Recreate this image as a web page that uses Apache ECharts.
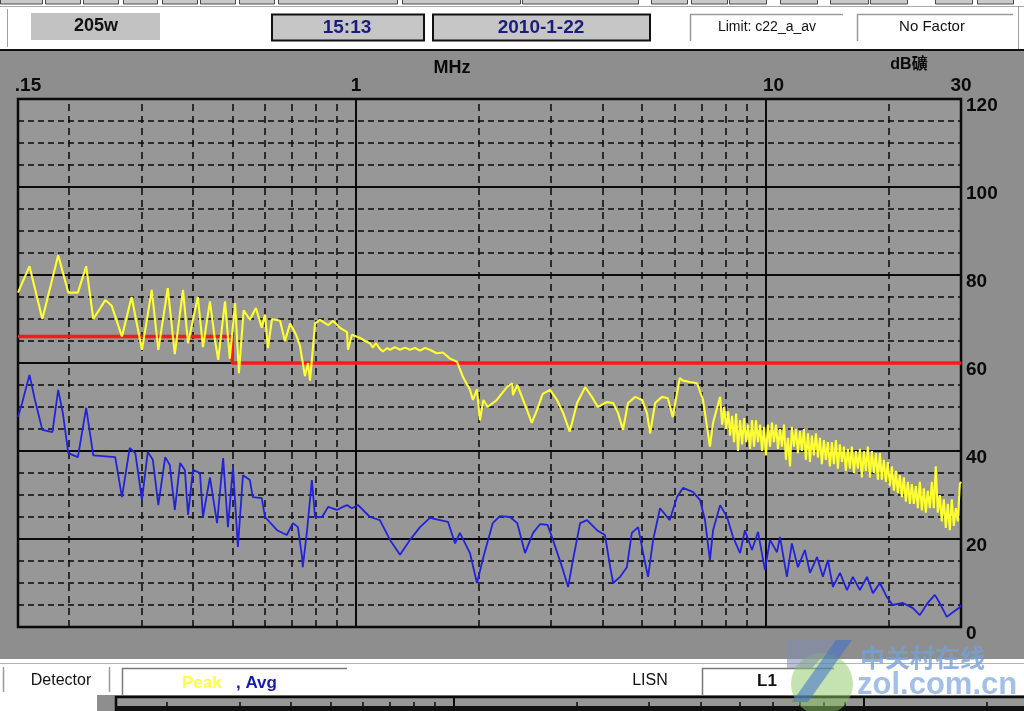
<!DOCTYPE html>
<html><head><meta charset="utf-8">
<script src="https://cdn.jsdelivr.net/npm/echarts@6/dist/echarts.min.js"></script>
<style>html,body{margin:0;padding:0;background:#8e8e8e;}#c{width:1024px;height:711px;}</style>
</head><body><div id="c"></div><script>
// ---- data ----
const xTicks = [0.15, 1, 10, 30];
const xTickText = ['.15', '1', '10', '30'];
const minorFreqs = [0.2,0.3,0.4,0.5,0.6,0.7,0.8,0.9,2,3,4,5,6,7,8,9,20];
const yMin = 0, yMax = 120, yStep = 20;
const limitTrace = [[0.15,66],[0.5,66],[0.5,60],[30,60]];
const peakTrace = [
[0.150,76],[0.160,82],[0.172,70],[0.188,84.5],[0.199,76],[0.210,76],[0.220,82],[0.229,70],[0.245,74.3],[0.254,73],
[0.269,66],[0.284,75],[0.301,63],[0.318,76.6],[0.330,63],[0.348,77],[0.362,62],[0.379,76.6],[0.390,64.5],[0.412,75],
[0.424,63.6],[0.441,74],[0.454,65],[0.462,60.7],[0.480,74],[0.493,61],[0.508,73.6],[0.519,57.7],[0.533,72],[0.552,69.8],
[0.571,72.5],[0.590,68],[0.601,71],[0.611,63.4],[0.625,70],[0.654,69.6],[0.672,65],[0.692,69],[0.715,66.5],[0.731,64],
[0.752,57],[0.765,60],[0.774,56],[0.796,69],[0.818,69.8],[0.857,68.6],[0.880,69.6],[0.916,68],[0.953,67],[0.958,63],
[0.979,66.4],[1.025,65.7],[1.054,65],[1.084,64.5],[1.102,63.5],[1.121,64.5],[1.146,63.2],[1.166,62.6],[1.193,63.4],[1.213,63],
[1.247,63.6],[1.283,63],[1.319,63.5],[1.357,63],[1.396,63.4],[1.436,62.8],[1.476,63.4],[1.518,63],[1.578,62.2],[1.633,62.4],
[1.699,61],[1.767,60.3],[1.828,56.8],[1.901,53.9],[1.933,51.6],[1.977,54],[2.01,47],[2.05,51.6],[2.10,50],[2.21,51.6],
[2.34,54.5],[2.41,55.4],[2.42,52.7],[2.48,55],[2.62,49.3],[2.69,46.4],[2.77,49.3],[2.86,53],[2.98,53.9],[3.10,51.6],
[3.21,48.6],[3.33,44.4],[3.47,50.9],[3.63,54.5],[3.77,52.3],[3.90,50],[4.10,51.1],[4.25,50.9],[4.37,48.6],[4.49,44.8],
[4.62,50.9],[4.81,52.3],[5.00,51.6],[5.14,48.6],[5.23,44],[5.38,50.9],[5.59,52.3],[5.78,52],[5.94,47.7],[6.08,53],
[6.18,56.6],[6.29,56],[6.54,55.7],[6.81,55.4],[7.04,51.6],[7.12,48.6],[7.32,41],[7.45,46.4],
[7.75,52.3],[7.84,46],[7.93,50],[8.02,45],[8.11,49],[8.20,43.5],[8.29,48],[8.38,42],[8.48,48.5],[8.57,40],
[8.67,47],[8.77,41.5],[8.87,47.5],[8.97,42],[9.07,46],[9.17,40.5],[9.27,47],[9.38,41],[9.48,47],[9.59,42],
[9.70,46],[9.81,40],[9.92,45.5],[10.03,39],[10.14,46],[10.26,41],[10.37,46.5],[10.49,42],[10.61,46],[10.73,40.5],
[10.85,45],[10.97,41],[11.10,46],[11.22,38],[11.35,43],[11.48,36.5],[11.60,45.5],[11.74,41],[11.87,45],[12.00,39.5],
[12.14,44.5],[12.27,40],[12.41,45],[12.55,38],[12.70,44],[12.84,37.5],[12.98,43.5],[13.13,39],[13.28,44],[13.43,38.5],
[13.58,43],[13.73,37],[13.89,42.5],[14.04,38],[14.20,42],[14.36,36.5],[14.53,42],[14.69,37],[14.86,42.5],[15.02,36],
[15.19,41.5],[15.37,37.5],[15.54,41],[15.71,35.5],[15.89,40.5],[16.07,36],[16.25,41],[16.44,35],[16.62,40],[16.81,36],
[17.00,40.5],[17.19,34],[17.39,40],[17.58,35.5],[17.78,41],[17.98,34],[18.18,40],[18.39,35],[18.60,39.5],[18.81,33.5],
[19.02,39.5],[19.23,33.5],[19.45,38],[19.67,33],[19.89,37.5],[20.12,32],[20.35,36.5],[20.58,31],[20.81,35.5],[21.04,30.5],
[21.28,34.5],[21.52,29.5],[21.76,34],[22.01,28.5],[22.26,33],[22.51,28],[22.76,32.5],[23.02,28],[23.28,32],[23.54,27],
[23.81,33],[24.08,26.5],[24.35,31.5],[24.62,26],[24.90,31],[25.18,27],[25.47,33],[25.75,27],[26.04,36.5],[26.33,26],
[26.63,30],[26.93,24],[27.24,29],[27.55,22.5],[27.86,28],[28.17,22],[28.49,29],[28.81,23],[29.14,27],[29.47,24],
[29.80,32.5],[30,33]
];
const avgTrace = [
[0.150,47.7],[0.1535,50.9],[0.160,57.3],[0.165,51.6],[0.172,44.8],[0.182,44.3],[0.188,53.9],[0.193,48.6],[0.199,39.5],[0.210,38.6],
[0.220,49.8],[0.229,39],[0.259,38.6],[0.269,29.5],[0.281,40.7],[0.290,39.5],[0.301,28.9],[0.311,39.8],[0.320,38],[0.330,27.7],
[0.343,38.6],[0.352,36.8],[0.362,26.6],[0.373,37.3],[0.383,35.7],[0.390,25.5],[0.401,35.7],[0.417,35],[0.424,25],[0.441,34],
[0.459,23.6],[0.475,38.4],[0.488,22.7],[0.502,36.4],[0.516,18.2],[0.531,34.5],[0.552,33.4],[0.561,29.5],[0.590,29.3],[0.601,25],
[0.643,22],[0.679,20.9],[0.703,23.6],[0.723,22.7],[0.740,15.9],[0.743,13.6],[0.760,21.4],[0.782,33.4],[0.796,25],[0.828,25],
[0.857,27.3],[0.900,26.6],[0.931,27.3],[0.953,27.7],[0.979,27],[1.014,27.7],[1.084,25],[1.146,24.3],[1.213,19.8],[1.283,16.4],
[1.357,19.8],[1.436,22.7],[1.518,24.8],[1.606,24.3],[1.680,23.9],[1.748,19],[1.796,21.4],[1.901,16.8],[1.977,10],[2.05,15.9],
[2.16,23.6],[2.25,25.2],[2.38,25],[2.48,23.6],[2.59,16.8],[2.71,21.4],[2.82,23.4],[2.94,23.2],[3.03,19.8],[3.19,13.6],
[3.30,9.1],[3.39,15.2],[3.53,23.6],[3.67,24.3],[3.88,22],[4.06,20.9],[4.18,13.6],[4.25,10],[4.42,11.4],[4.59,13.6],
[4.72,21.4],[4.89,22.7],[5.03,16.8],[5.17,11.4],[5.32,19.8],[5.53,27],[5.84,24.3],[6.08,29.5],[6.29,31.6],[6.65,30.7],
[6.92,28.9],[7.12,24.3],[7.32,15.2],[7.45,22],[7.75,27.7],[8.06,25],[8.33,20.5],[8.67,16.8],[8.91,22],[9.27,17.5],
[9.59,21.6],[9.97,13],[10.26,19.8],[10.67,17],[10.85,20.5],[11.28,11.4],[11.60,19],[12.00,13.6],[12.48,17.5],[12.84,12.3],
[13.36,15.9],[13.81,11.4],[14.20,15.2],[14.61,9.1],[15.20,12.3],[15.81,8.4],[16.34,11.4],[17.0,8.4],[17.69,11.4],[18.29,7.7],
[19.03,10],[19.78,6.8],[20.46,5],[21.6,5.5],[22.9,4.3],[23.8,2.7],[24.9,5.5],[25.9,7.3],[26.6,5.5],[27.7,2.3],
[28.5,3.2],[29.8,4.5],[30,5]
];

// ---- styles ----
const FONT = '"Liberation Sans", Arial, "Noto Sans CJK SC", sans-serif';
const BLACK = '#0a0a0a';
const PLOT_BG = '#979797';

function minorLines(z) {
  return {
    silent: true, symbol: ['none','none'], z: z, animation: false,
    label: {show: false}, emphasis: {disabled: true},
    lineStyle: {color: BLACK, type: [7,5], width: 1.5},
    data: minorFreqs.map(f => ({xAxis: f}))
  };
}
function txt(x, y, text, font, fill, align, z) {
  return {type:'text', x:x, y:y, z: z || 20, silent:true,
    style:{text:text, font:font, fill:fill, align:align||'center', verticalAlign:'middle',
           textAlign:align||'center', textVerticalAlign:'middle'}};
}
function rect(x, y, w, h, fill, stroke, lw, z) {
  return {type:'rect', z: z || 10, silent:true, shape:{x:x,y:y,width:w,height:h},
    style:{fill:fill, stroke:stroke||null, lineWidth:lw||0}};
}
function pline(pts, stroke, lw, z) {
  return {type:'polyline', z: z || 12, silent:true, shape:{points:pts},
    style:{stroke:stroke, lineWidth:lw||1, fill:null}};
}

const buttons = [[0,42],[45,80],[83,118],[123,157],[162,197],[200,235],[239,274],[278,397],[402,520],
  [522,638],[651,687],[691,727],[729,766],[780,817],[830,868],[870,907],[935,972],[977,1013]];

const graphics = [];
// header
graphics.push(rect(0,0,1024,50,'#ffffff',null,0,10));
buttons.forEach(b => graphics.push(rect(b[0]+0.5,-4,b[1]-b[0],8,'#c9c9c9','#4a4a4a',1,11)));
graphics.push(pline([[0,6.5],[1024,6.5]],'#a8a8a8',1,12));
graphics.push(pline([[7.5,9],[7.5,47]],'#a0a0a0',1,12));
graphics.push(pline([[1018.5,6],[1018.5,49]],'#a0a0a0',1,12));
graphics.push(rect(0,49,1024,2,'#111111',null,0,12));
graphics.push(rect(31,13,129,27,'#c2c2c2',null,0,12));
graphics.push(txt(96,26,'205w','bold 18px '+FONT,'#111'));
graphics.push(rect(272,14.5,152,26,'#c6c6c6','#111',2,12));
graphics.push(txt(347,28,'15:13','bold 19px '+FONT,'#1c1c7a'));
graphics.push(rect(433,14.5,217,26,'#c6c6c6','#111',2,12));
graphics.push(txt(541,28,'2010-1-22','bold 19px '+FONT,'#1c1c7a'));
graphics.push(pline([[690.5,41],[690.5,14.5],[843,14.5]],'#9a9a9a',1.5));
graphics.push(txt(767,27,'Limit: c22_a_av','14px '+FONT,'#111'));
graphics.push(pline([[857.5,41],[857.5,14.5],[1013,14.5]],'#9a9a9a',1.5));
graphics.push(txt(932,27,'No Factor','15px '+FONT,'#111'));
// axis titles
graphics.push(txt(452,68,'MHz','bold 18px '+FONT,'#0a0a0a'));
graphics.push(txt(909,65,'dB礦','bold 16px '+FONT,'#0a0a0a'));
// bottom bar
graphics.push(rect(0,659,1024,36,'#ffffff',null,0,10));
graphics.push(rect(0,695,97,16,'#ffffff',null,0,10));
graphics.push(pline([[0,663.5],[1024,663.5]],'#b4b4b4',1,12));
graphics.push(pline([[3.5,667],[3.5,692]],'#9a9a9a',1.5));
graphics.push(pline([[109.5,667],[109.5,692]],'#9a9a9a',1.5));
graphics.push(txt(61,681,'Detector','16px '+FONT,'#111'));
graphics.push(pline([[122.5,695],[122.5,668.5],[347,668.5]],'#7a7a7a',1.5));
graphics.push(txt(182,683,'Peak','bold 17px '+FONT,'#ffff44','left'));
graphics.push(txt(236,683,', Avg','bold 17px '+FONT,'#1a1aa8','left'));
graphics.push(txt(650,681,'LISN','16px '+FONT,'#111'));
graphics.push(pline([[702.5,695],[702.5,668.5],[834,668.5]],'#7a7a7a',1.5));
graphics.push(txt(767,681,'L1','bold 17px '+FONT,'#111'));
graphics.push(rect(116,706,908,5,'#111111',null,0,12));
// watermark
graphics.push({type:'circle', z:30, silent:true, shape:{cx:822,cy:684,r:31}, style:{fill:'rgba(140,200,100,0.5)'}});
graphics.push({type:'polygon', z:31, silent:true, shape:{points:[[787,640],[838,640],[812,668],[787,668]]}, style:{fill:'rgba(130,140,175,0.55)'}});
graphics.push({type:'polygon', z:31, silent:true, shape:{points:[[836,640],[852,640],[808,702],[792,702]]}, style:{fill:'rgba(60,110,205,0.55)'}});
graphics.push(txt(860,657,'中关村在线','bold 25px "Noto Sans CJK SC", sans-serif','rgba(120,160,215,0.8)','left',32));
graphics.push(txt(857,685,'zol.com.cn','bold 31px '+FONT,'rgba(140,175,222,0.8)','left',32));

const labelRich = (pad) => ({fontSize:19, fontWeight:'bold', fontFamily:FONT, color:BLACK, padding:[0,0,0,pad]});

const chart = echarts.init(document.getElementById('c'), null, {renderer:'canvas'});
chart.setOption({
  animation: false,
  backgroundColor: '#8e8e8e',
  grid: [
    {left:18, top:99, width:943, height:528, show:true, backgroundColor:PLOT_BG,
     borderColor:BLACK, borderWidth:2.5, containLabel:false, outerBoundsMode:'none'},
    {left:116, top:697, width:943, height:528, show:true, backgroundColor:PLOT_BG,
     borderColor:BLACK, borderWidth:2.5, containLabel:false, outerBoundsMode:'none'}
  ],
  xAxis: [
    {type:'log', logBase:10, min:xTicks[0], max:xTicks[xTicks.length-1], position:'top', gridIndex:0,
     axisLine:{show:false}, axisTick:{show:false},
     splitLine:{show:true, lineStyle:{color:BLACK, width:2}},
     axisLabel:{show:true, margin:4, showMinLabel:true, showMaxLabel:true,
       fontSize:19, fontWeight:'bold', fontFamily:FONT, color:BLACK,
       formatter: function(v){
         for (let i = 0; i < xTicks.length; i++) {
           if (Math.abs(Math.log10(v) - Math.log10(xTicks[i])) < 0.01) return '{t' + i + '|' + xTickText[i] + '}';
         }
         return '';
       },
       rich:{ t0:labelRich(20), t1:labelRich(1), t2:labelRich(16), t3:labelRich(0) }}},
    {type:'log', logBase:10, min:xTicks[0], max:xTicks[xTicks.length-1], gridIndex:1,
     axisLine:{show:false}, axisTick:{show:false}, axisLabel:{show:false},
     splitLine:{show:true, lineStyle:{color:BLACK, width:2}}}
  ],
  yAxis: [
    {type:'value', min:yMin, max:yMax, interval:yStep, position:'right', gridIndex:0,
     axisLine:{show:false}, axisTick:{show:false},
     axisLabel:{show:true, margin:5, color:BLACK, fontSize:19, fontWeight:'bold', fontFamily:FONT,
                verticalAlign:'top', lineHeight:14},
     splitLine:{show:true, lineStyle:{color:BLACK, width:2}},
     minorTick:{show:false, splitNumber:4},
     minorSplitLine:{show:true, lineStyle:{color:BLACK, width:1.5, type:[6,4]}}},
    {type:'value', min:yMin, max:yMax, interval:yStep, gridIndex:1,
     axisLine:{show:false}, axisTick:{show:false}, axisLabel:{show:false}, splitLine:{show:false}}
  ],
  series: [
    {name:'Limit', type:'line', data:limitTrace, xAxisIndex:0, yAxisIndex:0, symbol:'none', z:3,
     lineStyle:{color:'#ff1818', width:3.5}, itemStyle:{color:'#ff1818'}, silent:true,
     markLine: minorLines(1)},
    {name:'Peak', type:'line', data:peakTrace, xAxisIndex:0, yAxisIndex:0, symbol:'none', z:4,
     lineStyle:{color:'#ffff33', width:2.1}, itemStyle:{color:'#ffff33'}, silent:true},
    {name:'Avg', type:'line', data:avgTrace, xAxisIndex:0, yAxisIndex:0, symbol:'none', z:4,
     lineStyle:{color:'#2222dd', width:1.8}, itemStyle:{color:'#2222dd'}, silent:true},
    {name:'lower', type:'line', data:[], xAxisIndex:1, yAxisIndex:1, symbol:'none', silent:true,
     markLine: minorLines(1)}
  ],
  graphic: {elements: graphics}
});
</script></body></html>
